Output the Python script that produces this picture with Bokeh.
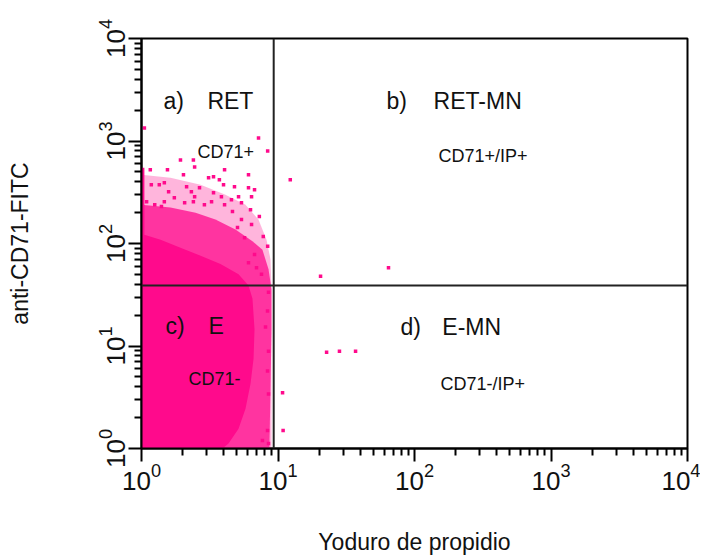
from bokeh.plotting import figure
from bokeh.models import Span, Label, FixedTicker, LogTickFormatter
from bokeh.embed import file_html
from bokeh.resources import INLINE

# ---------------- data ----------------
tick_values = [1, 10, 100, 1000, 10000]

gate_x = 9.3      # propidium iodide gate
gate_y = 39.0     # anti-CD71 gate

# saturated core of the erythrocyte population
core_x = [1.0, 1.0, 1.05, 1.05, 1.38, 1.93, 2.71, 3.79, 5.14, 6.08, 6.50, 6.73,
          6.62, 6.29, 5.78, 5.14, 4.34, 3.92]
core_y = [1.0, 547, 547, 122, 109, 91, 76, 63, 50, 39, 29, 14.6,
          7.5, 4.28, 2.44, 1.56, 1.12, 1.0]

# dense speckled zone around the core
halo_x = [1.0, 1.0, 1.63, 2.49, 3.48, 4.88, 6.50, 7.69, 8.52, 8.96, 8.96, 8.81, 8.65]
halo_y = [1.0, 239, 224, 200, 171, 137, 105, 87, 56, 36, 14.6, 3.8, 1.0]

# sparse outer zone
outer_x = [1.0, 1.0, 1.63, 2.71, 4.12, 5.78, 7.19, 8.24, 8.81, 8.96, 8.96]
outer_y = [1.0, 468, 437, 374, 299, 239, 171, 109, 70, 36, 1.0]

# individual events in the reticulocyte quadrant
ret_x = [1.05, 7.2, 8.4, 1.93, 2.40, 2.45, 1.16, 1.55, 2.03, 4.06, 6.08, 3.10, 3.37,
         3.72, 3.99, 1.18, 1.35, 1.47, 2.14, 2.32, 2.45, 2.66, 4.80, 6.08, 6.73, 1.58,
         1.74, 3.37, 3.85, 4.56, 5.14, 6.40, 1.09, 1.25, 1.47, 1.40, 2.07, 2.40, 2.89,
         3.26, 4.06, 5.40, 7.3, 7.8, 8.4, 6.40, 5.40, 5.69, 6.73, 6.08, 6.96, 7.57,
         4.64, 6.29, 5.05]
ret_y = [1337, 1069, 800, 654, 654, 559, 523, 523, 468, 523, 468, 437, 447,
         418, 374, 374, 374, 391, 357, 320, 286, 350, 357, 350, 334, 320,
         280, 313, 286, 267, 286, 286, 256, 239, 256, 229, 250, 256, 239,
         256, 239, 250, 183, 117, 94, 153, 171, 114, 78, 65, 58, 50,
         205, 214, 143]

# events along the right edge of the erythrocyte cloud
edge_x = [8.52, 8.38, 8.10, 8.52, 8.38, 8.52, 8.38, 8.52, 7.69]
edge_y = [33.4, 21.9, 15.3, 8.9, 5.7, 3.4, 1.5, 1.12, 1.2]

# micronucleated events (IP+)
mn_x = [12.3, 20.5, 64.5, 22.7, 28.2, 37.0, 10.8, 10.9]
mn_y = [418, 48, 58, 8.7, 8.9, 8.9, 3.5, 1.5]

# ---------------- figure ----------------
PINK = "#FF0A8C"
FONT = "Liberation Sans"
INK = "#111111"

p = figure(width=700, height=557, x_axis_type="log", y_axis_type="log",
           x_range=(1, 10000), y_range=(1, 10000),
           output_backend="svg", toolbar_location=None,
           min_border_left=141, min_border_right=13,
           min_border_top=38, min_border_bottom=107)

p.background_fill_color = "white"
p.border_fill_color = "white"
p.outline_line_color = "black"
p.outline_line_width = 2
p.xgrid.visible = False
p.ygrid.visible = False

minor = [m * d for d in [1, 10, 100, 1000] for m in range(2, 10)]
for ax in (p.xaxis[0], p.yaxis[0]):
    ax.ticker = FixedTicker(ticks=tick_values, minor_ticks=minor)
    ax.formatter = LogTickFormatter()
    ax.axis_line_color = "black"
    ax.axis_line_width = 2
    ax.major_tick_line_color = "black"
    ax.major_tick_line_width = 2
    ax.minor_tick_line_color = "black"
    ax.minor_tick_line_width = 2
    ax.major_tick_in = 0
    ax.minor_tick_in = 0
    ax.major_tick_out = 13
    ax.minor_tick_out = 7
    ax.major_label_text_font = FONT
    ax.major_label_text_font_size = "26px"
    ax.major_label_text_color = INK
    ax.major_label_standoff = 1
    ax.axis_label_text_font = FONT
    ax.axis_label_text_font_style = "normal"
    ax.axis_label_text_font_size = "23px"
    ax.axis_label_text_color = INK

p.yaxis.major_label_orientation = "vertical"
p.yaxis.major_label_standoff = 4
p.xaxis.axis_label = "Yoduro de propidio"
p.yaxis.axis_label = "anti-CD71-FITC"
p.xaxis.axis_label_standoff = 36
p.yaxis.axis_label_standoff = 62

# populations
p.patch(outer_x, outer_y, fill_color=PINK, fill_alpha=0.3, line_color=None)
p.patch(halo_x, halo_y, fill_color=PINK, fill_alpha=0.75, line_color=None)
p.patch(core_x, core_y, fill_color=PINK, fill_alpha=1.0, line_color=None)
p.scatter(ret_x, ret_y, marker="square", size=3.5, color=PINK, line_color=None)
p.scatter(edge_x, edge_y, marker="square", size=3.5, color=PINK, line_color=None)
p.scatter(mn_x, mn_y, marker="square", size=3.5, color=PINK, line_color=None)

# quadrant gates
p.add_layout(Span(location=gate_x, dimension="height", line_color="#222222", line_width=2))
p.add_layout(Span(location=gate_y, dimension="width", line_color="#222222", line_width=2))

# quadrant labels
def lab(x, y, t, size):
    p.add_layout(Label(x=x, y=y, text=t, text_font=FONT, text_font_size=size,
                       text_color=INK, text_baseline="middle", text_align="left"))

big = "23px"
small = "18px"
lab(1.45, 2445, "a)", big)
lab(3.04, 2445, "RET", big)
lab(62.4, 2445, "b)", big)
lab(138, 2445, "RET-MN", big)
lab(1.50, 15.6, "c)", big)
lab(3.10, 15.6, "E", big)
lab(78.9, 15.3, "d)", big)
lab(160, 15.3, "E-MN", big)
lab(2.57, 782, "CD71+", small)
lab(150, 715, "CD71+/IP+", small)
lab(2.21, 4.78, "CD71-", small)
lab(155, 4.28, "CD71-/IP+", small)

open("out.html", "w").write(file_html(p, INLINE))
